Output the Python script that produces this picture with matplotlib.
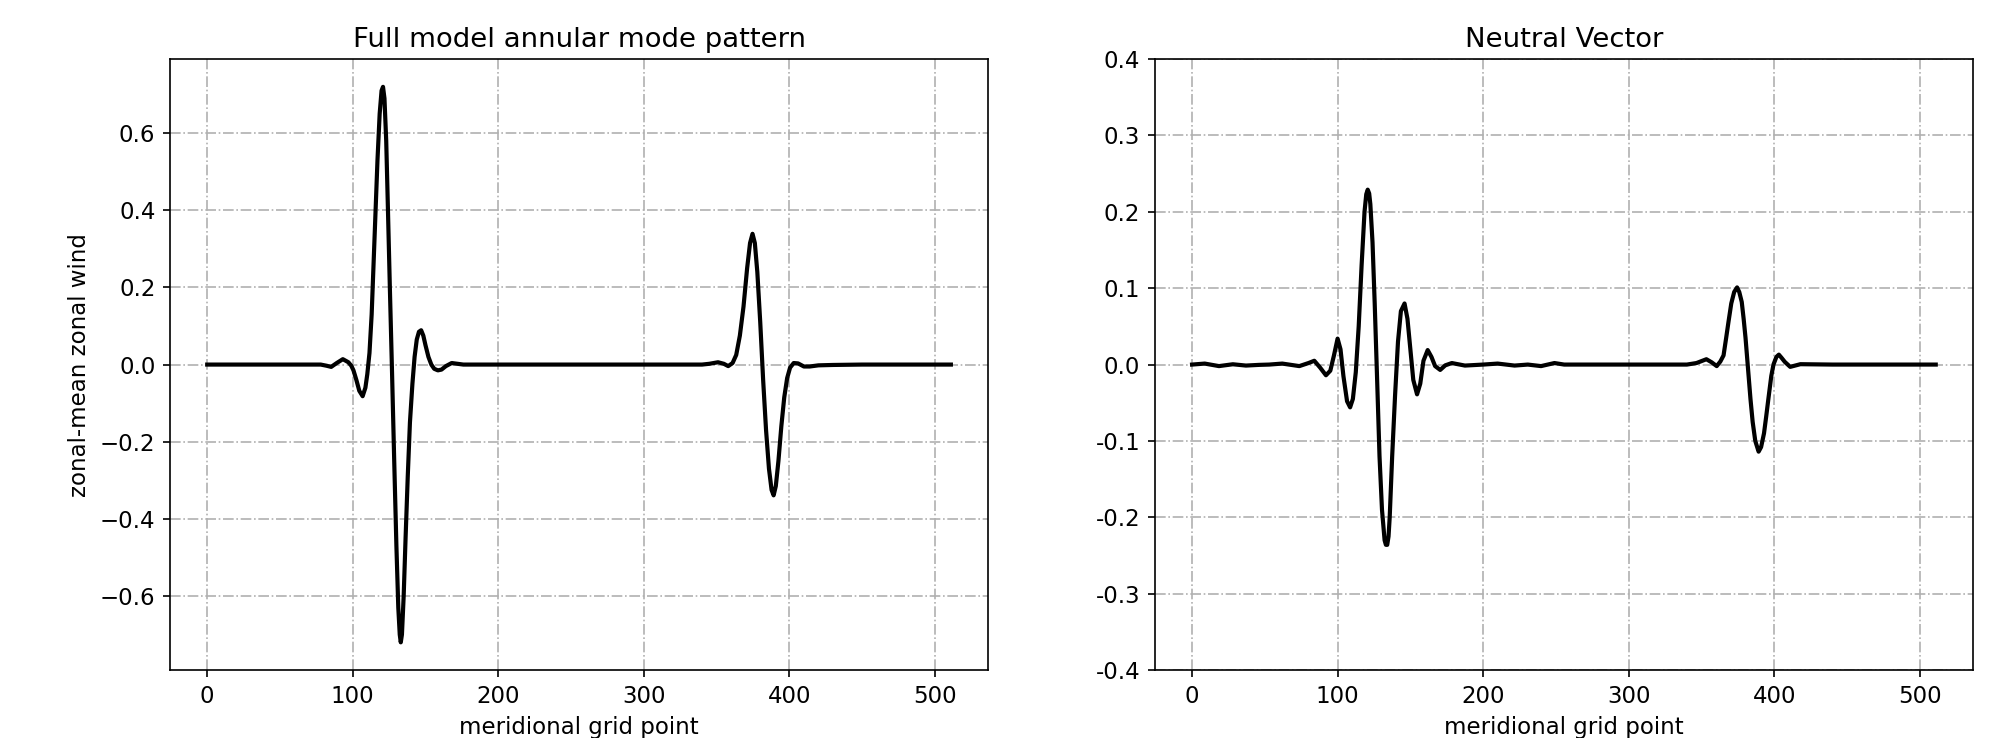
import matplotlib
matplotlib.use("Agg")
import matplotlib.pyplot as plt

plt.rcParams["font.size"] = 11

# Full model annular mode pattern
grid_left = [0, 78, 82, 85.2, 89, 93.2, 97, 99, 100.5, 102.5, 104.5, 106.8, 108.7, 110,
             111.5, 113, 115, 117, 118.5, 119.8, 120.8, 121.8, 123, 124.2, 125.5, 127,
             128.5, 130, 131.3, 132.3, 133, 133.8, 135, 136.3, 137.8, 139.3, 141, 142.5,
             144, 145.5, 147, 148.5, 150, 152, 154, 156, 158.5, 161, 164, 168, 172, 176,
             340, 345, 351, 355, 358, 361, 363.5, 366, 368.5, 371, 373, 374.7, 376.3, 378,
             380, 382, 384, 386, 387.8, 389.2, 390.7, 392.5, 394.5, 396.5, 398.5, 400.5,
             403, 406, 410, 414, 420, 430, 450, 511]
wind_left = [0, 0, -0.003, -0.006, 0.004, 0.014, 0.006, -0.003, -0.015, -0.04, -0.068, -0.082,
             -0.06, -0.025, 0.03, 0.13, 0.33, 0.53, 0.65, 0.71, 0.72, 0.69, 0.58, 0.4, 0.2,
             -0.02, -0.25, -0.47, -0.63, -0.70, -0.72, -0.70, -0.6, -0.45, -0.29, -0.15,
             -0.05, 0.02, 0.065, 0.085, 0.089, 0.075, 0.05, 0.02, 0.0, -0.011, -0.015,
             -0.013, -0.004, 0.004, 0.002, 0,
             0, 0.002, 0.006, 0.002, -0.004, 0.004, 0.025, 0.075, 0.15, 0.25, 0.315, 0.339,
             0.315, 0.24, 0.11, -0.04, -0.17, -0.27, -0.325, -0.339, -0.315, -0.25, -0.16,
             -0.085, -0.035, -0.008, 0.004, 0.003, -0.005, -0.005, -0.002, -0.001, 0, 0]

# Neutral vector
grid_right = [0, 8.7, 18.5, 28, 37, 46, 53, 62, 73.7, 80, 84, 88, 92, 95, 97.5, 100, 102,
              104, 106.5, 108.6, 110.5, 112.5, 114.5, 116.5, 118.5, 119.7, 120.7, 121.7,
              122.5, 124, 125.5, 127, 128.8, 130.5, 132.3, 133.2, 134.1, 135, 135.8, 137.5,
              139.5, 141.5, 143.5, 146, 148, 150, 152, 154.6, 156.8, 159, 161.9, 164.5, 167,
              170.5, 174, 178.5, 187.5, 200, 210, 221.6, 230.7, 239.8, 249, 255.7, 340,
              346.6, 353.4, 357, 360.5, 363, 365.2, 367, 368.6, 370.5, 372.5, 374.5, 376,
              377.7, 379, 380.3, 382, 383.7, 385.2, 387, 389.3, 391, 393, 394.5, 396, 398,
              399.5, 401.5, 403.2, 405, 407.3, 411, 418, 440, 511]
vec_right = [0, 0.0013, -0.002, 0.0004, -0.0013, -0.0004, 0.0, 0.0013, -0.002, 0.002, 0.005,
             -0.004, -0.014, -0.008, 0.012, 0.034, 0.02, -0.015, -0.048, -0.056, -0.045,
             -0.01, 0.05, 0.13, 0.2, 0.223, 0.229, 0.224, 0.21, 0.16, 0.08, -0.01, -0.12,
             -0.19, -0.23, -0.236, -0.236, -0.225, -0.2, -0.12, -0.04, 0.03, 0.07, 0.08,
             0.06, 0.02, -0.02, -0.039, -0.025, 0.005, 0.019, 0.01, -0.002, -0.007, -0.001,
             0.002, -0.0013, 0, 0.0013, -0.0013, 0, -0.002, 0.002, 0, 0, 0.002, 0.007,
             0.003, -0.002, 0.004, 0.012, 0.035, 0.056, 0.08, 0.095, 0.101, 0.095, 0.082,
             0.06, 0.035, -0.005, -0.045, -0.075, -0.1, -0.114, -0.108, -0.09, -0.068,
             -0.045, -0.015, 0.0, 0.01, 0.013, 0.009, 0.0035, -0.003, 0.0005, 0, 0]

right_yticks = [0.4, 0.3, 0.2, 0.1, 0.0, -0.1, -0.2, -0.3, -0.4]
right_ylabels = ["0.4", "0.3", "0.2", "0.1", "0.0", "-0.1", "-0.2", "-0.3", "-0.4"]

fig = plt.figure(figsize=(2005 / 150, 738 / 150), dpi=150)
ax1 = fig.add_axes([0.0848, 0.092, 0.408, 0.828])
ax2 = fig.add_axes([0.576, 0.092, 0.408, 0.828])

# left panel
ax1.plot(grid_left, wind_left, color="black", linewidth=2)
ax1.grid(True, linestyle="-.", color="#b0b0b0")
ax1.set_title("Full model annular mode pattern")
ax1.set_xlabel("meridional grid point")
ax1.set_ylabel("zonal-mean zonal wind")
ax1.set_xticks([0, 100, 200, 300, 400, 500])

# right panel
ax2.plot(grid_right, vec_right, color="black", linewidth=2)
ax2.grid(True, linestyle="-.", color="#b0b0b0")
ax2.set_title("Neutral Vector")
ax2.set_xlabel("meridional grid point")
ax2.set_ylim(-0.4, 0.4)
ax2.set_yticks(right_yticks)
ax2.set_yticklabels(right_ylabels)
ax2.set_xticks([0, 100, 200, 300, 400, 500])

fig.savefig("out.png", dpi=150)
